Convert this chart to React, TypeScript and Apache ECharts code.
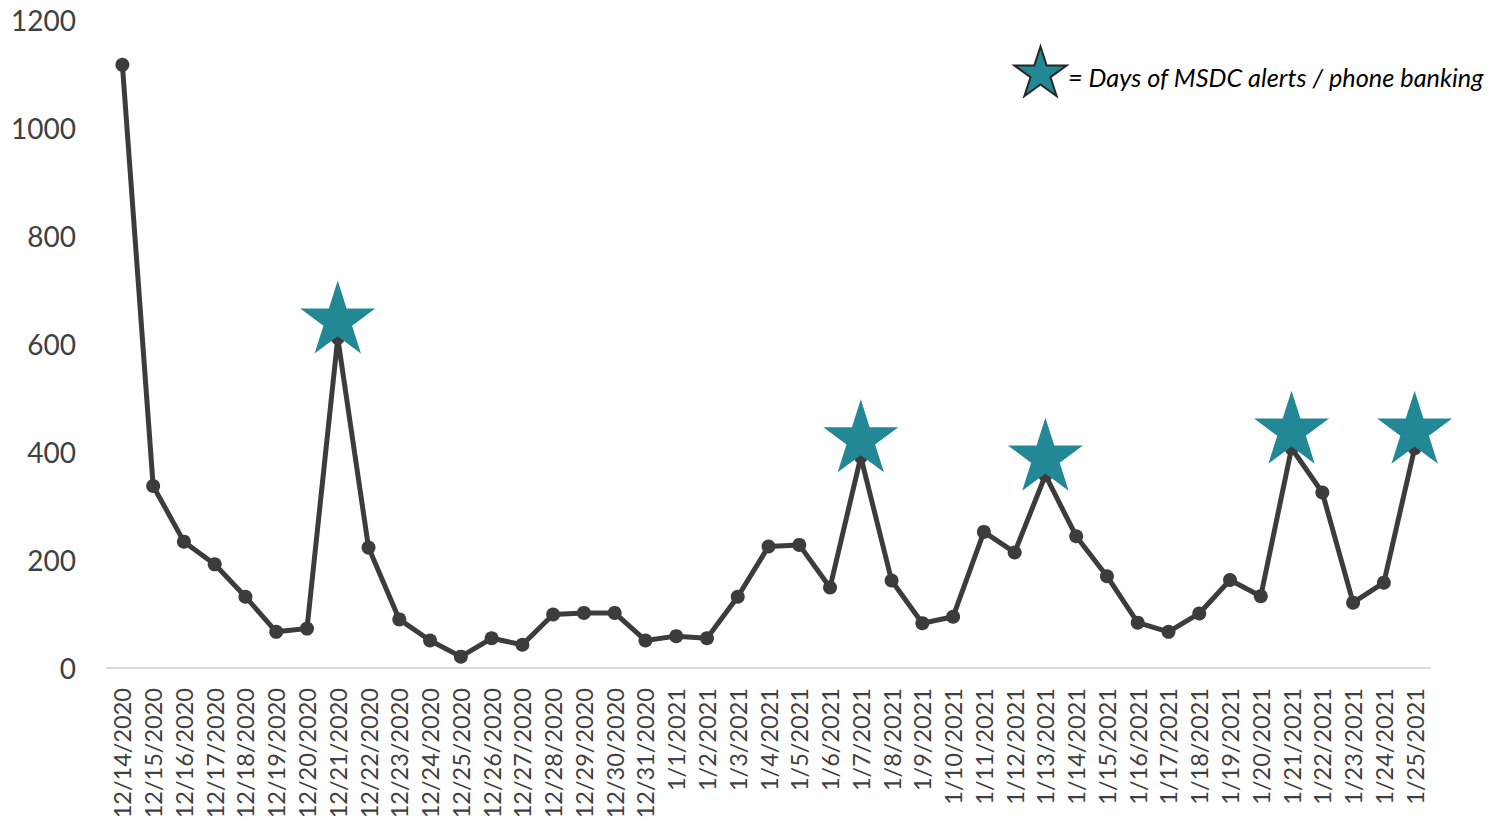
import React, { useEffect, useRef } from "react";
import * as echarts from "echarts";

const dates: string[] = [
  "12/14/2020", "12/15/2020", "12/16/2020", "12/17/2020", "12/18/2020", "12/19/2020", "12/20/2020",
  "12/21/2020", "12/22/2020", "12/23/2020", "12/24/2020", "12/25/2020", "12/26/2020", "12/27/2020",
  "12/28/2020", "12/29/2020", "12/30/2020", "12/31/2020", "1/1/2021", "1/2/2021", "1/3/2021",
  "1/4/2021", "1/5/2021", "1/6/2021", "1/7/2021", "1/8/2021", "1/9/2021", "1/10/2021",
  "1/11/2021", "1/12/2021", "1/13/2021", "1/14/2021", "1/15/2021", "1/16/2021", "1/17/2021",
  "1/18/2021", "1/19/2021", "1/20/2021", "1/21/2021", "1/22/2021", "1/23/2021", "1/24/2021",
  "1/25/2021",
];

const values: number[] = [
  1117, 337, 234, 192, 132, 67, 73,
  611, 223, 90, 51, 21, 55, 43,
  99, 102, 102, 51, 59, 55, 132,
  225, 228, 149, 391, 162, 83, 95,
  252, 214, 357, 244, 170, 84, 67,
  101, 163, 133, 407, 325, 121, 158,
  407,
];

const alertDays: string[] = ["12/21/2020", "1/7/2021", "1/13/2021", "1/21/2021", "1/25/2021"];

const yTicks = { min: 0, max: 1200, interval: 200 };

const legendText = "= Days of MSDC alerts / phone banking";

const STAR_PATH =
  "path://M100,0 L122.45,69.1 L195.1,69.1 L136.3,111.8 L158.8,180.9 L100,138.2 L41.2,180.9 L63.7,111.8 L4.9,69.1 L77.55,69.1 Z";

function starPoints(cx: number, cy: number, R: number): number[][] {
  const r = R * 0.382;
  const pts: number[][] = [];
  for (let i = 0; i < 10; i++) {
    const ang = (-90 + i * 36) * (Math.PI / 180);
    const rad = i % 2 === 0 ? R : r;
    pts.push([cx + rad * Math.cos(ang), cy + rad * Math.sin(ang)]);
  }
  return pts;
}

export default function App() {
  const ref = useRef<HTMLDivElement>(null);
  useEffect(() => {
    if (!ref.current) return;
    const chart = echarts.init(ref.current, undefined, { renderer: "svg" });
    const starData = dates.map((d, i) => (alertDays.includes(d) ? values[i] : null));
    const font = "Lato, 'Open Sans', sans-serif";
    chart.setOption({
      animation: false,
      backgroundColor: "#ffffff",
      grid: { left: 107, right: 61, top: 20, bottom: 154 },
      xAxis: {
        type: "category",
        data: dates,
        boundaryGap: true,
        axisLine: { show: true, lineStyle: { color: "#d9d9d9", width: 2 } },
        axisTick: { show: false },
        axisLabel: {
          rotate: 90,
          interval: 0,
          margin: 20,
          color: "#404040",
          fontSize: 23.5,
          fontFamily: font,
        },
        splitLine: { show: false },
      },
      yAxis: {
        type: "value",
        min: yTicks.min,
        max: yTicks.max,
        interval: yTicks.interval,
        axisLine: { show: false },
        axisTick: { show: false },
        splitLine: { show: false },
        axisLabel: {
          color: "#404040",
          fontSize: 28,
          fontFamily: font,
          margin: 31,
          formatter: (v: number) => String(v),
        },
      },
      series: [
        {
          type: "line",
          data: values,
          symbol: "circle",
          symbolSize: 14,
          lineStyle: { color: "#3c3c3c", width: 5 },
          itemStyle: { color: "#3c3c3c" },
          z: 2,
        },
        {
          type: "scatter",
          data: starData,
          symbol: STAR_PATH,
          symbolSize: [75, 73],
          symbolKeepAspect: false,
          symbolOffset: [0, -21],
          itemStyle: { color: "#238896", opacity: 1 },
          z: 5,
        },
      ],
      graphic: [
        {
          type: "polygon",
          shape: { points: starPoints(1040.5, 74, 27.5) },
          style: { fill: "#238896", stroke: "#262626", lineWidth: 2 },
          z: 10,
        },
        {
          type: "text",
          x: 1068,
          y: 77,
          style: {
            text: legendText,
            fill: "#000000",
            font: "italic 25.3px Lato, 'Open Sans', sans-serif",
            textVerticalAlign: "middle",
            verticalAlign: "middle",
          },
          z: 10,
        },
      ],
    });
    return () => chart.dispose();
  }, []);
  return (
    <div
      ref={ref}
      style={{ position: "absolute", left: 0, top: 0, width: 1491, height: 822 }}
    />
  );
}
